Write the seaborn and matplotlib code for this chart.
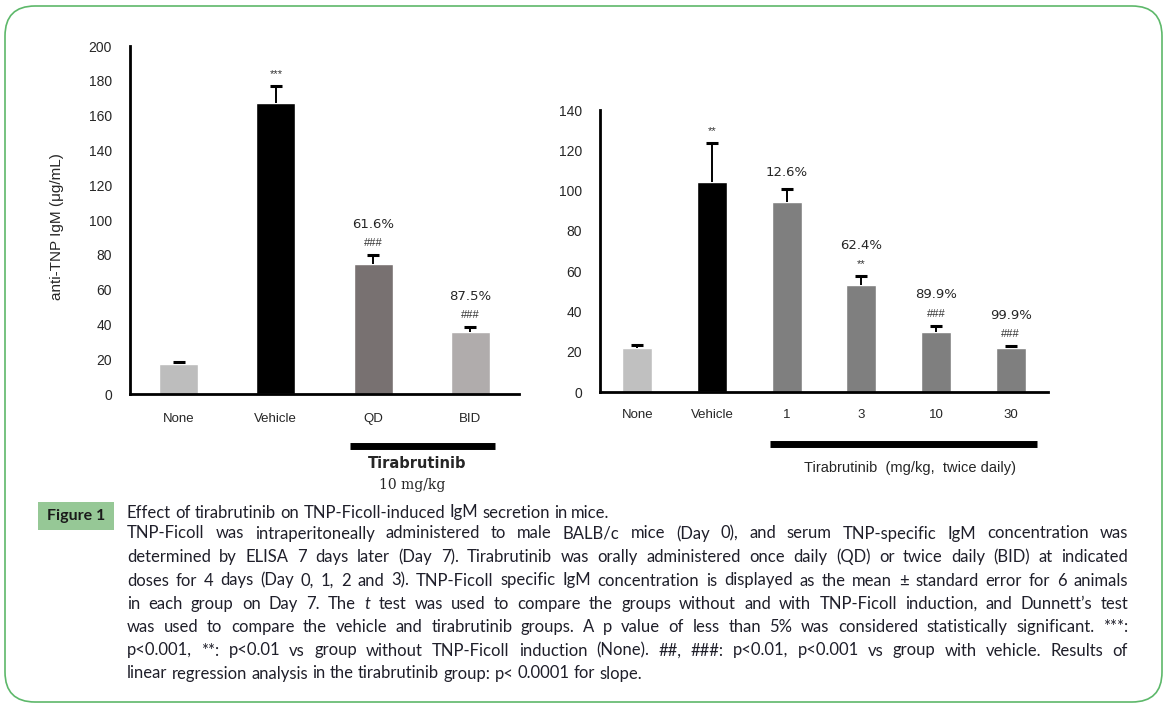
import numpy as np
import pandas as pd
import matplotlib
matplotlib.use('Agg')
import matplotlib.pyplot as plt
import seaborn as sns
from matplotlib.patches import FancyBboxPatch, Rectangle
from matplotlib.transforms import IdentityTransform, blended_transform_factory

# Left panel: tirabrutinib 10 mg/kg, once vs twice daily
left_groups = ['None', 'Vehicle', 'QD', 'BID']
left_means = [17, 167, 75, 35.5]
left_sem = [1.5, 10, 5, 3]
left_colors = ['#BDBDBD', '#000000', '#787171', '#B0ACAC']
left_sig = ['', '***', '###', '###']
left_pct = ['', '', '61.6%', '87.5%']

# Right panel: dose response, twice daily
right_groups = ['None', 'Vehicle', '1', '3', '10', '30']
right_means = [22, 104.5, 94.5, 53, 30, 22]
right_sem = [1.5, 19, 6.5, 4.5, 3, 1]
right_colors = ['#C0C0C0', '#000000', '#7F7F7F', '#7F7F7F', '#7F7F7F', '#7F7F7F']
right_sig = ['', '**', '', '**', '###', '###']
right_pct = ['', '', '12.6%', '62.4%', '89.9%', '99.9%']

caption_title = "Effect of tirabrutinib on TNP-Ficoll-induced IgM secretion in mice."
caption_lines = [
    "TNP-Ficoll was intraperitoneally administered to male BALB/c mice (Day 0), and serum TNP-specific IgM concentration was",
    "determined by ELISA 7 days later (Day 7). Tirabrutinib was orally administered once daily (QD) or twice daily (BID) at indicated",
    "doses for 4 days (Day 0, 1, 2 and 3). TNP-Ficoll specific IgM concentration is displayed as the mean \u00b1 standard error for 6 animals",
    "in each group on Day 7. The _t_ test was used to compare the groups without and with TNP-Ficoll induction, and Dunnett\u2019s test",
    "was used to compare the vehicle and tirabrutinib groups. A p value of less than 5% was considered statistically significant. ***:",
    "p<0.001, **: p<0.01 vs group without TNP-Ficoll induction (None). ##, ###: p<0.01, p<0.001 vs group with vehicle. Results of",
    "linear regression analysis in the tirabrutinib group: p< 0.0001 for slope.",
]

sns.set_style('white')
plt.rcParams['font.family'] = ['Liberation Sans', 'DejaVu Sans']

W, H = 1166, 708
fig = plt.figure(figsize=(W / 100, H / 100), dpi=100)


def fx(x):
    return x / W


def fy(y):
    return 1 - y / H


def draw_panel(ax, groups, means, sem, colors, sig, pct, ymax, pad):
    df = pd.DataFrame({'group': groups, 'mean': means})
    sns.barplot(data=df, x='group', y='mean', hue='group', order=groups,
                palette=dict(zip(groups, colors)), width=0.4, legend=False,
                errorbar=None, saturation=1, ax=ax)
    xs = np.arange(len(groups))
    eb = ax.errorbar(xs, means, yerr=[np.zeros(len(groups)), sem], fmt='none',
                     ecolor='black', elinewidth=1.4, capsize=4.5, capthick=2.2)
    eb[1][0].set_visible(False)  # no cap at the bar top
    ax.set_xlim(-0.5, len(groups) - 0.5)
    ax.set_ylim(0, ymax)
    ax.set_yticks(np.arange(0, ymax + 1, 20))
    ax.set_xticks(xs + 0.5, minor=True)
    ax.tick_params(axis='x', which='major', length=0, pad=pad, labelsize=9.5)
    ax.tick_params(axis='x', which='minor', length=3, width=2, color='black')
    ax.tick_params(axis='y', length=4, width=1, color='#808080', pad=9, labelsize=10)
    ax.set_xlabel('')
    ax.set_ylabel('')
    for side in ['top', 'right']:
        ax.spines[side].set_visible(False)
    for side in ['left', 'bottom']:
        ax.spines[side].set_linewidth(2)
        ax.spines[side].set_color('black')
    for i in xs:
        top = means[i] + sem[i]
        if sig[i]:
            ax.annotate(sig[i], (i, top), xytext=(0, 8.5), textcoords='offset points',
                        ha='center', va='center', fontsize=8, color='#333333')
        if pct[i]:
            off = 22 if sig[i] else 11.5
            ax.annotate(pct[i], (i, top), xytext=(0, off), textcoords='offset points',
                        ha='center', va='center', fontsize=9.5, family='DejaVu Sans')


# left panel
axl = fig.add_axes([fx(130), fy(394), fx(389), 348 / H])
draw_panel(axl, left_groups, left_means, left_sem, left_colors, left_sig, left_pct, 200, 14)
axl.set_ylabel('anti-TNP IgM (\u03bcg/mL)', fontsize=11)
axl.yaxis.set_label_coords(-0.17, 0.48)
trl = blended_transform_factory(axl.transData, axl.transAxes)
axl.plot([1.76, 3.25], [-0.15, -0.15], transform=trl, color='black', lw=5,
         solid_capstyle='butt', clip_on=False)
fig.text(fx(417), fy(463), 'Tirabrutinib', ha='center', va='center', fontsize=10.5,
         fontweight='semibold', family='DejaVu Sans')
fig.text(fx(412), fy(485), '10 mg/kg', ha='center', va='center', fontsize=10,
         family='DejaVu Serif')

# right panel
axr = fig.add_axes([fx(600), fy(392), fx(448), 282 / H])
draw_panel(axr, right_groups, right_means, right_sem, right_colors, right_sig, right_pct, 140, 12)
trr = blended_transform_factory(axr.transData, axr.transAxes)
axr.plot([1.78, 5.35], [-0.185, -0.185], transform=trr, color='black', lw=5,
         solid_capstyle='butt', clip_on=False)
fig.text(fx(910), fy(468), 'Tirabrutinib  (mg/kg,  twice daily)', ha='center', va='center',
         fontsize=10.5)

# frame and caption
frame = FancyBboxPatch((5, H - 702), 1157, 696, boxstyle='round,pad=0,rounding_size=30',
                       transform=IdentityTransform(), facecolor='none',
                       edgecolor='#5DB86A', linewidth=1.2)
fig.add_artist(frame)
badge = Rectangle((38, H - 530), 76, 28, transform=IdentityTransform(),
                  facecolor='#96C896', edgecolor='none')
fig.add_artist(badge)
fig.text(fx(76), fy(516), 'Figure 1', ha='center', va='center', fontsize=11.5,
         fontweight='bold', family='Lato', color='#1a1a1a')

renderer = fig.canvas.get_renderer()
cap_font = 'Lato'
cap_color = '#1f1f2a'
x0, x1 = 127, 1128


def text_width(s, size, style='normal'):
    t = fig.text(0, 0, s, fontsize=size, family=cap_font, style=style)
    w = t.get_window_extent(renderer).width
    t.remove()
    return w


def split_words(line):
    out = []
    for w in line.split(' '):
        if w.startswith('_') and w.endswith('_') and len(w) > 2:
            out.append((w[1:-1], 'italic'))
        else:
            out.append((w, 'normal'))
    return out


size = 12.0
while True:
    sp = text_width('a a', size) - text_width('aa', size)
    widest = 0
    for line in caption_lines[:-1]:
        words = split_words(line)
        nat = sum(text_width(w, size, s) for w, s in words) + sp * (len(words) - 1)
        widest = max(widest, nat)
    if widest <= (x1 - x0) * 0.985 or size < 8:
        break
    size -= 0.25


def draw_line(line, y, justify):
    words = split_words(line)
    widths = [text_width(w, size, s) for w, s in words]
    sp = text_width('a a', size) - text_width('aa', size)
    gap = (x1 - x0 - sum(widths)) / (len(words) - 1) if justify else sp
    x = x0
    for (w, s), wd in zip(words, widths):
        # shared baseline so descenders don't shift words
        fig.text(fx(x), fy(y + 4.5), w, ha='left', va='baseline', fontsize=size,
                 family=cap_font, style=s, color=cap_color)
        x += wd + gap


draw_line(caption_title, 513, False)
ys = [534, 557.5, 581, 604.5, 627.5, 651, 674]
for i, (line, y) in enumerate(zip(caption_lines, ys)):
    draw_line(line, y, i < len(caption_lines) - 1)

fig.savefig('out.png', dpi=100)
